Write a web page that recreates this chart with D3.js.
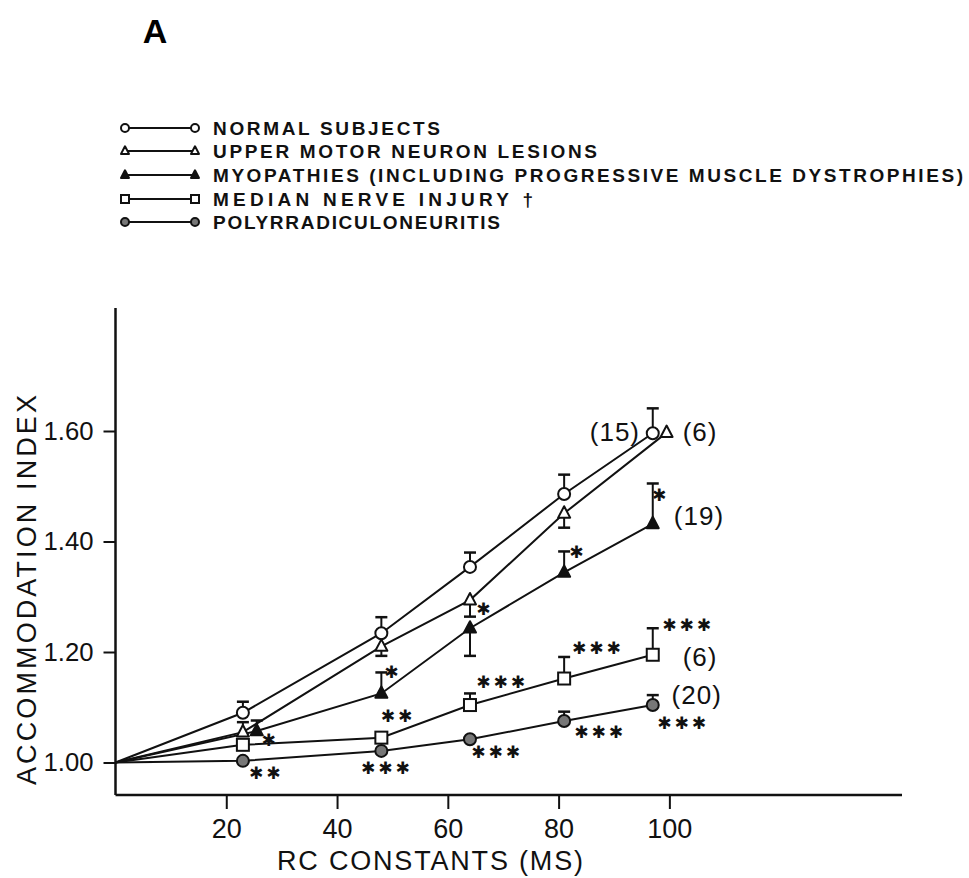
<!DOCTYPE html>
<html><head><meta charset="utf-8">
<script src="https://cdn.jsdelivr.net/npm/d3@7"></script>
<style>body{margin:0;background:#fff} svg{display:block}</style>
</head><body><svg id="c" width="969" height="878"></svg>
<script>
// ---------- data ----------
const xTicks = [20, 40, 60, 80, 100];
const yTicks = [1.00, 1.20, 1.40, 1.60];
const yTickLabels = ["1.00", "1.20", "1.40", "1.60"];
const originX = 0, originY = 1.00;

const seriesNames = ["NORMAL SUBJECTS", "UPPER MOTOR NEURON LESIONS",
  "MYOPATHIES (INCLUDING PROGRESSIVE MUSCLE DYSTROPHIES)", "MEDIAN NERVE INJURY \u2020",
  "POLYRRADICULONEURITIS"];
const seriesSymbols = ["circle", "triangle", "triangleFilled", "square", "circleGrey"];

const normalX = [23, 48, 64, 81, 97];
const normalY = [1.090, 1.234, 1.354, 1.486, 1.596];
const normalErr = [0.020, 0.029, 0.026, 0.035, 0.045];

const umnX = [23, 48, 64, 81, 99.5];
const umnY = [1.055, 1.210, 1.294, 1.451, 1.597];
const umnErr = [0.018, -0.017, -0.030, -0.026, 0];

const myoX = [25.5, 48, 64, 81, 97];
const myoY = [1.057, 1.125, 1.243, 1.344, 1.432];
const myoErr = [0.019, 0.038, -0.050, 0.038, 0.073];

const medX = [23, 48, 64, 81, 97];
const medY = [1.032, 1.045, 1.104, 1.152, 1.195];
const medErr = [0, 0, 0.021, 0.039, 0.048];

const polX = [23, 48, 64, 81, 97];
const polY = [1.003, 1.021, 1.042, 1.075, 1.104];
const polErr = [0, 0, 0, 0.017, 0.018];

const starText = ["*", "**", "*", "**", "***", "*", "***", "***", "*", "***", "***", "*", "***", "***"];
const starX = [27.9, 27.2, 50.1, 51.0, 49.0, 66.7, 69.8, 68.9, 83.5, 87.1, 87.5, 98.4, 103.4, 102.5];
const starY = [1.041, 0.981, 1.164, 1.084, 0.990, 1.278, 1.146, 1.019, 1.381, 1.207, 1.055, 1.484, 1.249, 1.072];

const countText = ["(15)", "(6)", "(19)", "(6)", "(20)"];
const countX = [94.7, 102.4, 100.8, 102.4, 100.4];
const countY = [1.598, 1.598, 1.446, 1.191, 1.122];
const countAnchor = ["end", "start", "start", "start", "start"];

// ---------- drawing ----------
const svg = d3.select("#c");
const FONT = "'Liberation Sans',Arial,sans-serif";
const x = d3.scaleLinear().domain([0, 142]).range([115.5, 902]);
const y = d3.scaleLinear().domain([1.0, 1.60]).range([762.5, 431]);
const yBottom = 795, yTop = 308;

svg.append("rect").attr("width", 969).attr("height", 878).attr("fill", "#fff");

// title
svg.append("text").attr("x", 155).attr("y", 43).attr("text-anchor", "middle")
  .attr("font-family", FONT).attr("font-weight", "bold")
  .attr("font-size", 34).text("A");

// axes
const gx = svg.append("g").attr("transform", `translate(0,${yBottom})`)
  .call(d3.axisBottom(x).tickValues(xTicks).tickSize(14).tickPadding(10).tickFormat(d3.format("d")));
gx.select(".domain").remove();
gx.selectAll(".tick line").attr("stroke", "#111").attr("stroke-width", 2);
gx.selectAll(".tick text").attr("font-family", FONT).attr("font-size", 27).attr("fill", "#111");
svg.append("line").attr("x1", x(0)).attr("x2", x(142)).attr("y1", yBottom).attr("y2", yBottom)
  .attr("stroke", "#111").attr("stroke-width", 2.5);

const gy = svg.append("g").attr("transform", `translate(${x(0)},0)`)
  .call(d3.axisLeft(y).tickValues(yTicks).tickSize(12).tickPadding(10)
    .tickFormat((d, i) => yTickLabels[i]));
gy.select(".domain").remove();
gy.selectAll(".tick line").attr("stroke", "#111").attr("stroke-width", 2);
gy.selectAll(".tick text").attr("font-family", FONT).attr("font-size", 26).attr("fill", "#111")
  .attr("textLength", 50).attr("lengthAdjust", "spacingAndGlyphs");
svg.append("line").attr("x1", x(0)).attr("x2", x(0)).attr("y1", yTop).attr("y2", yBottom)
  .attr("stroke", "#111").attr("stroke-width", 2.5);

// axis titles
svg.append("text").attr("x", 430).attr("y", 870).attr("text-anchor", "middle")
  .attr("font-family", FONT).attr("font-size", 27).attr("fill", "#111")
  .attr("textLength", 306).attr("lengthAdjust", "spacing").text("RC CONSTANTS (MS)");
svg.append("text").attr("transform", "translate(36,590) rotate(-90)").attr("text-anchor", "middle")
  .attr("font-family", FONT).attr("font-size", 27).attr("fill", "#111")
  .attr("textLength", 390).attr("lengthAdjust", "spacing").text("ACCOMMODATION INDEX");

// symbol drawing
function drawSymbol(g, type, cx, cy, s) {
  if (type === "circle" || type === "circleGrey") {
    g.append("circle").attr("cx", cx).attr("cy", cy).attr("r", s)
      .attr("fill", type === "circle" ? "#fff" : "#777").attr("stroke", "#111").attr("stroke-width", 2);
  } else if (type === "triangle" || type === "triangleFilled") {
    const h = s * 1.9;
    g.append("path").attr("d", `M${cx},${cy - h * 0.62} L${cx + s},${cy + h * 0.38} L${cx - s},${cy + h * 0.38} Z`)
      .attr("fill", type === "triangle" ? "#fff" : "#111").attr("stroke", "#111").attr("stroke-width", 2)
      .attr("stroke-linejoin", "round");
  } else if (type === "square") {
    g.append("rect").attr("x", cx - s).attr("y", cy - s).attr("width", 2 * s).attr("height", 2 * s)
      .attr("fill", "#fff").attr("stroke", "#111").attr("stroke-width", 2);
  }
}

const allSeries = [
  {xs: normalX, ys: normalY, err: normalErr, sym: seriesSymbols[0]},
  {xs: umnX, ys: umnY, err: umnErr, sym: seriesSymbols[1]},
  {xs: myoX, ys: myoY, err: myoErr, sym: seriesSymbols[2]},
  {xs: medX, ys: medY, err: medErr, sym: seriesSymbols[3]},
  {xs: polX, ys: polY, err: polErr, sym: seriesSymbols[4]},
];

const line = d3.line().x(d => x(d[0])).y(d => y(d[1]));
const gl = svg.append("g");
allSeries.forEach(s => {
  const pts = [[originX, originY]].concat(s.xs.map((v, i) => [v, s.ys[i]]));
  gl.append("path").attr("d", line(pts)).attr("fill", "none").attr("stroke", "#111").attr("stroke-width", 2);
});
const ge = svg.append("g");
allSeries.forEach(s => {
  s.xs.forEach((v, i) => {
    if (!s.err[i]) return;
    const px = x(v), p0 = y(s.ys[i]), p1 = y(s.ys[i] + s.err[i]);
    ge.append("line").attr("x1", px).attr("x2", px).attr("y1", p0).attr("y2", p1)
      .attr("stroke", "#111").attr("stroke-width", 2);
    ge.append("line").attr("x1", px - 6).attr("x2", px + 6).attr("y1", p1).attr("y2", p1)
      .attr("stroke", "#111").attr("stroke-width", 2.5);
  });
});
const gm = svg.append("g");
allSeries.forEach(s => {
  s.xs.forEach((v, i) => drawSymbol(gm, s.sym, x(v), y(s.ys[i]), 6));
});

// significance stars
const gs = svg.append("g");
starText.forEach((t, i) => {
  gs.append("text").attr("x", x(starX[i])).attr("y", y(starY[i])).attr("text-anchor", "middle")
    .attr("dominant-baseline", "central").attr("font-family", "'DejaVu Sans',sans-serif")
    .attr("font-size", 17).attr("letter-spacing", 3).attr("fill", "#111")
    .text(t.replace(/\*/g, "\u2731"));
});

// counts
countText.forEach((t, i) => {
  svg.append("text").attr("x", x(countX[i])).attr("y", y(countY[i])).attr("text-anchor", countAnchor[i])
    .attr("dominant-baseline", "central").attr("font-family", FONT).attr("font-size", 26)
    .attr("letter-spacing", 1).attr("fill", "#111").text(t);
});

// legend
const legY = [128, 151, 175, 199, 222];
const legW = [227, 384, 750, 320, 287];
const gLeg = svg.append("g");
seriesNames.forEach((n, i) => {
  const yy = legY[i];
  gLeg.append("line").attr("x1", 125).attr("x2", 195).attr("y1", yy).attr("y2", yy)
    .attr("stroke", "#111").attr("stroke-width", 2);
  drawSymbol(gLeg, seriesSymbols[i], 125, yy, 4);
  drawSymbol(gLeg, seriesSymbols[i], 195, yy, 4);
  gLeg.append("text").attr("x", 213).attr("y", yy).attr("dominant-baseline", "central")
    .attr("font-family", FONT).attr("font-weight", "bold").attr("font-size", 19).attr("fill", "#111")
    .attr("textLength", legW[i]).attr("lengthAdjust", "spacing").text(n);
});
</script></body></html>
